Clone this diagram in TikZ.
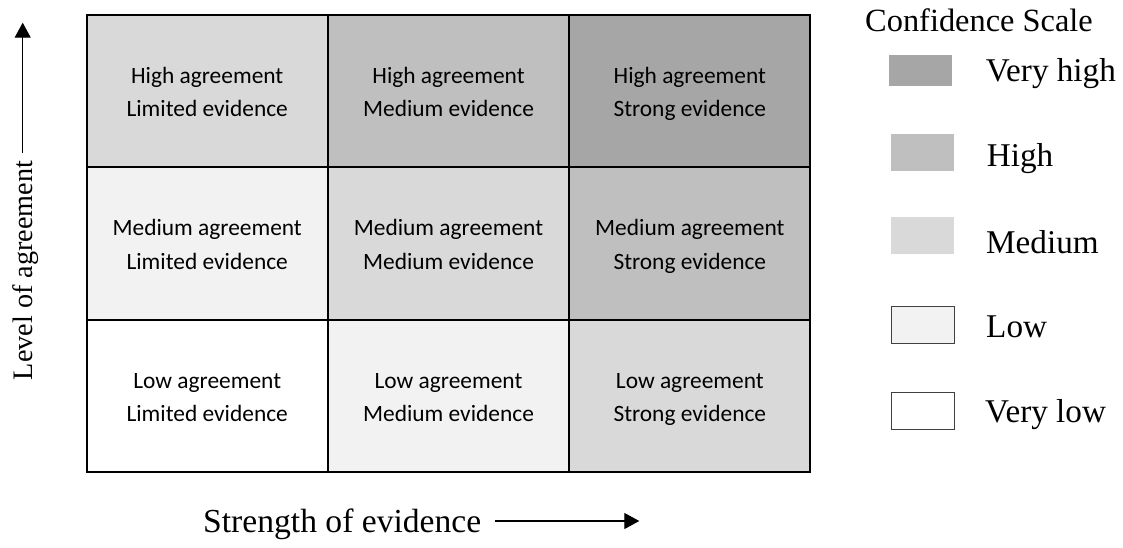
\documentclass[tikz,border=0pt]{standalone}
\usepackage{fontspec}
\setmainfont{Liberation Serif}
\newfontfamily\cellfont{Carlito}
\usetikzlibrary{arrows.meta}
\definecolor{cvh}{HTML}{A6A6A6}
\definecolor{ch}{HTML}{BFBFBF}
\definecolor{cm}{HTML}{D9D9D9}
\definecolor{cl}{HTML}{F2F2F2}
\definecolor{cvl}{HTML}{FFFFFF}
\definecolor{keyborder}{HTML}{404040}
\begin{document}
\begin{tikzpicture}[x=1pt,y=-1pt,
  cell/.style={draw=black, line width=2pt, minimum width=241.3pt, minimum height=152.3pt,
    inner sep=0pt, align=center, font=\cellfont\fontsize{23.4}{33.5}\selectfont,
    text height=63.3pt, text depth=11.8pt},
  key/.style={minimum width=63pt, minimum height=37pt, inner sep=0pt, anchor=north west},
  keyframe/.style={key, draw=keyborder, line width=1pt},
  keylabel/.style={anchor=base west, inner sep=0pt, font=\fontsize{33.2}{38}\selectfont},
  axislabel/.style={inner sep=0pt, font=\fontsize{33.6}{38}\selectfont},
  axisarrow/.style={-{Triangle[length=15pt,width=16pt]}, line width=1.1pt}]
\useasboundingbox[fill=white] (0,0) rectangle (1123,548);
% grid cells
\node[cell, fill=cm]  (c11) at (207.2,91.2)  {High agreement\\Limited evidence};
\node[cell, fill=ch]  (c12) at (448.5,91.2)  {High agreement\\Medium evidence};
\node[cell, fill=cvh] (c13) at (689.8,91.2)  {High agreement\\Strong evidence};
\node[cell, fill=cl]  (c21) at (207.2,243.5) {Medium agreement\\Limited evidence};
\node[cell, fill=cm]  (c22) at (448.5,243.5) {Medium agreement\\Medium evidence};
\node[cell, fill=ch]  (c23) at (689.8,243.5) {Medium agreement\\Strong evidence};
\node[cell, fill=cvl] (c31) at (207.2,395.8) {Low agreement\\Limited evidence};
\node[cell, fill=cl]  (c32) at (448.5,395.8) {Low agreement\\Medium evidence};
\node[cell, fill=cm]  (c33) at (689.8,395.8) {Low agreement\\Strong evidence};
% axes
\node[axislabel, font=\fontsize{28.2}{34}\selectfont, rotate=90, anchor=base] (ylab) at (32.3,270.5) {Level of agreement};
\coordinate (ya) at (22.7,152.7);
\coordinate (yb) at (22.7,22.7);
\draw[axisarrow] (ya) -- (yb);
\node[axislabel, anchor=base west] (xlab) at (203,532) {Strength of evidence};
\coordinate (xa) at (495,521);
\coordinate (xb) at (639.3,521);
\draw[axisarrow] (xa) -- (xb);
% legend
\node[keylabel, font=\fontsize{32.4}{38}\selectfont] (title) at (865,31.7) {Confidence Scale};
\node[key, fill=cvh, minimum height=31pt] (kvh) at (889,55) {};
\node[key, fill=ch] (kh) at (891,134) {};
\node[key, fill=cm] (km) at (891,217) {};
\node[keyframe, fill=cl] (kl) at (890.5,305.5) {};
\node[keyframe, fill=cvl] (kvl) at (890.5,391.5) {};
\node[keylabel] (lvh) at (985.7,81.7) {Very high};
\node[keylabel] (lh) at (986.7,166.7) {High};
\node[keylabel] (lm) at (986,253) {Medium};
\node[keylabel] (ll) at (986,337.7) {Low};
\node[keylabel] (lvl) at (985,422.7) {Very low};
\end{tikzpicture}
\end{document}
